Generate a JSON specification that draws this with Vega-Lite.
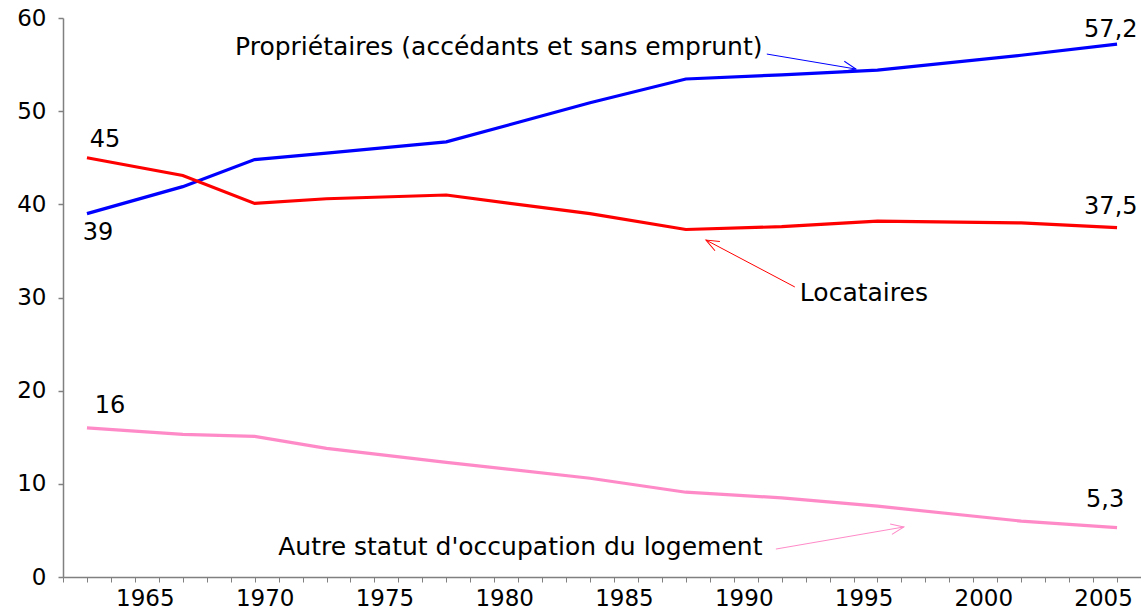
{
  "$schema": "https://vega.github.io/schema/vega-lite/v6.json",
  "width": 1078,
  "height": 559,
  "autosize": "none",
  "padding": {"left": 63, "top": 18, "right": 0, "bottom": 33},
  "background": "white",
  "config": {"view": {"stroke": null}, "font": "DejaVu Sans"},
  "datasets": {
    "series": [
      {"year": 1963, "statut": "Propriétaires", "value": 39},
      {"year": 1967, "statut": "Propriétaires", "value": 41.9},
      {"year": 1970, "statut": "Propriétaires", "value": 44.8},
      {"year": 1973, "statut": "Propriétaires", "value": 45.5},
      {"year": 1978, "statut": "Propriétaires", "value": 46.7},
      {"year": 1984, "statut": "Propriétaires", "value": 50.9},
      {"year": 1988, "statut": "Propriétaires", "value": 53.45},
      {"year": 1992, "statut": "Propriétaires", "value": 53.9},
      {"year": 1996, "statut": "Propriétaires", "value": 54.4},
      {"year": 2002, "statut": "Propriétaires", "value": 56.0},
      {"year": 2006, "statut": "Propriétaires", "value": 57.2},
      {"year": 1963, "statut": "Locataires", "value": 45},
      {"year": 1967, "statut": "Locataires", "value": 43.1},
      {"year": 1970, "statut": "Locataires", "value": 40.1},
      {"year": 1973, "statut": "Locataires", "value": 40.6},
      {"year": 1978, "statut": "Locataires", "value": 41.0},
      {"year": 1984, "statut": "Locataires", "value": 39.0},
      {"year": 1988, "statut": "Locataires", "value": 37.3},
      {"year": 1992, "statut": "Locataires", "value": 37.6},
      {"year": 1996, "statut": "Locataires", "value": 38.2},
      {"year": 2002, "statut": "Locataires", "value": 38.0},
      {"year": 2006, "statut": "Locataires", "value": 37.5},
      {"year": 1963, "statut": "Autre", "value": 16},
      {"year": 1967, "statut": "Autre", "value": 15.3},
      {"year": 1970, "statut": "Autre", "value": 15.1},
      {"year": 1973, "statut": "Autre", "value": 13.8},
      {"year": 1978, "statut": "Autre", "value": 12.3},
      {"year": 1984, "statut": "Autre", "value": 10.6},
      {"year": 1988, "statut": "Autre", "value": 9.1},
      {"year": 1992, "statut": "Autre", "value": 8.5},
      {"year": 1996, "statut": "Autre", "value": 7.6},
      {"year": 2002, "statut": "Autre", "value": 6.0},
      {"year": 2006, "statut": "Autre", "value": 5.3}
    ],
    "valueLabels": [
      {"text": "45", "year": 1963.75, "value": 46.9},
      {"text": "39", "year": 1963.46, "value": 36.9},
      {"text": "16", "year": 1963.96, "value": 18.35},
      {"text": "57,2", "year": 2005.74, "value": 58.7},
      {"text": "37,5", "year": 2005.74, "value": 39.7},
      {"text": "5,3", "year": 2005.5, "value": 8.26}
    ],
    "notes": [
      {"text": "Propriétaires (accédants et sans emprunt)", "year": 1991.2, "value": 56.9},
      {"text": "Locataires", "year": 1992.76, "value": 30.5},
      {"text": "Autre statut d'occupation du logement", "year": 1991.2, "value": 3.2}
    ],
    "arrows": [
      {"statut": "Propriétaires", "year": 1991.38, "value": 56.13, "year2": 1995.1, "value2": 54.52},
      {"statut": "Locataires", "year": 1992.55, "value": 31.13, "year2": 1988.84, "value2": 36.17},
      {"statut": "Autre", "year": 1991.76, "value": 3.0, "year2": 1997.1, "value2": 5.37}
    ]
  },
  "encoding": {
    "x": {
      "field": "year",
      "type": "quantitative",
      "scale": {"domain": [1962, 2007], "nice": false, "zero": false},
      "axis": {
        "title": null,
        "grid": false,
        "values": [1962,1963,1964,1965,1966,1967,1968,1969,1970,1971,1972,1973,1974,1975,1976,1977,1978,1979,1980,1981,1982,1983,1984,1985,1986,1987,1988,1989,1990,1991,1992,1993,1994,1995,1996,1997,1998,1999,2000,2001,2002,2003,2004,2005,2006],
        "format": "d",
        "labelExpr": "datum.value % 5 === 0 ? datum.label : ''",
        "labelOverlap": false,
        "labelFlush": false,
        "labelOffset": 10,
        "labelFontSize": 23,
        "labelColor": "#000000",
        "labelPadding": 5,
        "domainColor": "#808080",
        "tickColor": "#808080",
        "tickSize": 5,
        "domainWidth": 1.5,
        "tickWidth": 1
      }
    },
    "y": {
      "field": "value",
      "type": "quantitative",
      "scale": {"domain": [0, 60], "nice": false},
      "axis": {
        "title": null,
        "grid": false,
        "values": [0, 10, 20, 30, 40, 50, 60],
        "labelFontSize": 23,
        "labelColor": "#000000",
        "labelPadding": 12,
        "domainColor": "#808080",
        "tickColor": "#808080",
        "tickSize": 5,
        "domainWidth": 1.5,
        "tickWidth": 1.5
      }
    }
  },
  "layer": [
    {
      "data": {"name": "series"},
      "mark": {"type": "line", "strokeWidth": 3.2},
      "encoding": {
        "color": {
          "field": "statut",
          "type": "nominal",
          "scale": {"domain": ["Propriétaires", "Locataires", "Autre"], "range": ["#0000FF", "#FF0000", "#FF8AC8"]},
          "legend": null
        }
      }
    },
    {
      "data": {"name": "arrows"},
      "mark": {"type": "rule", "strokeWidth": 1},
      "encoding": {
        "x2": {"field": "year2"},
        "y2": {"field": "value2"},
        "color": {"field": "statut", "type": "nominal", "legend": null}
      }
    },
    {
      "data": {"name": "arrows"},
      "transform": [{"filter": "datum.statut === 'Propriétaires'"}],
      "mark": {"type": "point", "shape": "M-1,-0.4L0,0L-1,0.4", "filled": false, "size": 676, "strokeWidth": 1, "opacity": 1, "angle": 12},
      "encoding": {
        "x": {"field": "year2", "type": "quantitative"},
        "y": {"field": "value2", "type": "quantitative"},
        "color": {"field": "statut", "type": "nominal", "legend": null}
      }
    },
    {
      "data": {"name": "arrows"},
      "transform": [{"filter": "datum.statut === 'Locataires'"}],
      "mark": {"type": "point", "shape": "M-1,-0.4L0,0L-1,0.4", "filled": false, "size": 676, "strokeWidth": 1, "opacity": 1, "angle": 208},
      "encoding": {
        "x": {"field": "year2", "type": "quantitative"},
        "y": {"field": "value2", "type": "quantitative"},
        "color": {"field": "statut", "type": "nominal", "legend": null}
      }
    },
    {
      "data": {"name": "arrows"},
      "transform": [{"filter": "datum.statut === 'Autre'"}],
      "mark": {"type": "point", "shape": "M-1,-0.4L0,0L-1,0.4", "filled": false, "size": 676, "strokeWidth": 1, "opacity": 1, "angle": 350},
      "encoding": {
        "x": {"field": "year2", "type": "quantitative"},
        "y": {"field": "value2", "type": "quantitative"},
        "color": {"field": "statut", "type": "nominal", "legend": null}
      }
    },
    {
      "data": {"name": "valueLabels"},
      "mark": {"type": "text", "align": "center", "baseline": "middle", "fontSize": 24, "color": "#000000"},
      "encoding": {"text": {"field": "text"}}
    },
    {
      "data": {"name": "notes"},
      "transform": [{"filter": "datum.text !== 'Locataires'"}],
      "mark": {"type": "text", "align": "right", "baseline": "middle", "fontSize": 25, "color": "#000000"},
      "encoding": {"text": {"field": "text"}}
    },
    {
      "data": {"name": "notes"},
      "transform": [{"filter": "datum.text === 'Locataires'"}],
      "mark": {"type": "text", "align": "left", "baseline": "middle", "fontSize": 25, "color": "#000000"},
      "encoding": {"text": {"field": "text"}}
    }
  ]
}
